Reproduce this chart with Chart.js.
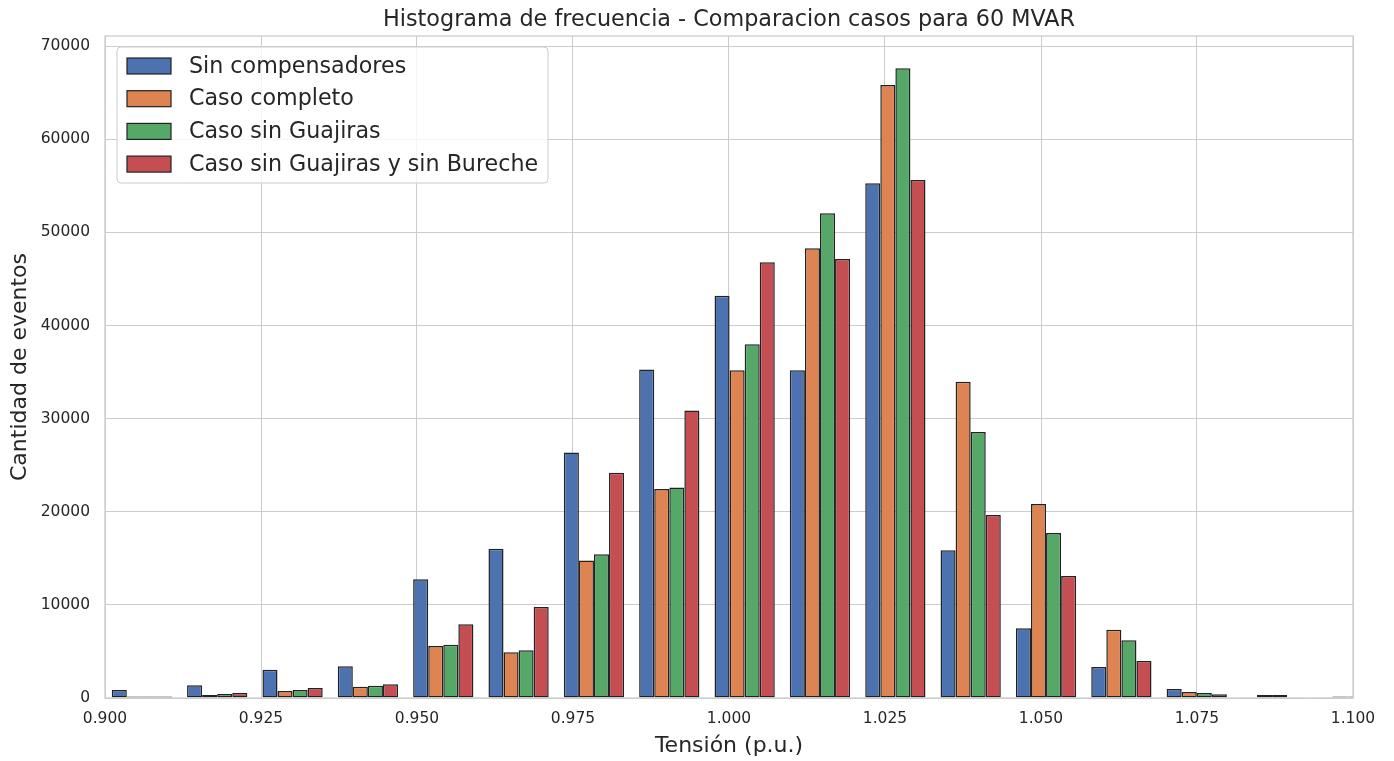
<!DOCTYPE html>
<html>
<head>
<meta charset="utf-8">
<script src="https://cdn.jsdelivr.net/npm/chart.js@4.4.1/dist/chart.umd.min.js"></script>
<style>
  html, body { margin: 0; padding: 0; background: #ffffff; }
  #c { display: block; }
</style>
</head>
<body>
<canvas id="c" width="1394" height="761"></canvas>
<script>
// Bin centres (Tensión p.u.)
const binCenters = [0.90591, 0.91798, 0.93006, 0.94213, 0.95421, 0.96628, 0.97836, 0.99043,
                    1.00251, 1.01458, 1.02666, 1.03873, 1.05081, 1.06288, 1.07496, 1.08703, 1.09911];

const seriesNames = ['Sin compensadores', 'Caso completo', 'Caso sin Guajiras', 'Caso sin Guajiras y sin Bureche'];

const sinCompensadores = [860, 1380, 3040, 3400, 12760, 16020, 26380, 35270, 43210, 35200, 55290, 15860, 7490, 3330, 970, 40, 20];
const casoCompleto     = [170, 320, 750, 1220, 5590, 4910, 14760, 22440, 35200, 48300, 65840, 33970, 20840, 7340, 640, 320, 170];
const casoSinGuajiras  = [170, 430, 860, 1320, 5730, 5125, 15450, 22620, 37990, 52060, 67640, 28570, 17720, 6200, 540, 320, 170];
const casoSinGuajBur   = [170, 540, 1075, 1470, 7920, 9780, 24190, 30890, 46800, 47150, 55640, 19660, 13100, 3970, 400, 40, 20];

const xTickValues = [0.900, 0.925, 0.950, 0.975, 1.000, 1.025, 1.050, 1.075, 1.100];
const yTickValues = [0, 10000, 20000, 30000, 40000, 50000, 60000, 70000];

const titleText = 'Histograma de frecuencia - Comparacion casos para 60 MVAR';

const colors = ['#4C72B0', '#DD8452', '#55A868', '#C44E52'];
const FONT = "'DejaVu Sans', 'Noto Sans', sans-serif";
const TXT = '#262626';

const allSeries = [sinCompensadores, casoCompleto, casoSinGuajiras, casoSinGuajBur];

const titlePlugin = {
  id: 'axTitle',
  afterDraw(chart) {
    const {ctx, chartArea: a} = chart;
    ctx.save();
    ctx.font = '22.3px ' + FONT;
    ctx.fillStyle = TXT;
    ctx.textAlign = 'center';
    ctx.textBaseline = 'middle';
    ctx.fillText(titleText, (a.left + a.right) / 2, 20);
    ctx.restore();
  }
};

const framePlugin = {
  id: 'frame',
  afterDatasetsDraw(chart) {
    const {ctx, chartArea: a} = chart;
    ctx.save();
    ctx.strokeStyle = '#cccccc';
    ctx.lineWidth = 1.3;
    ctx.strokeRect(a.left, a.top, a.right - a.left, a.bottom - a.top);
    ctx.restore();
  }
};

const legendPlugin = {
  id: 'mplLegend',
  afterDraw(chart) {
    const {ctx, chartArea: a} = chart;
    const fs = 22.2;
    const x0 = a.left + 12, y0 = a.top + 11;
    const w = 431, rowH = 32.7, h = 136;
    ctx.save();
    ctx.beginPath();
    const r = 4;
    ctx.moveTo(x0 + r, y0);
    ctx.lineTo(x0 + w - r, y0);
    ctx.quadraticCurveTo(x0 + w, y0, x0 + w, y0 + r);
    ctx.lineTo(x0 + w, y0 + h - r);
    ctx.quadraticCurveTo(x0 + w, y0 + h, x0 + w - r, y0 + h);
    ctx.lineTo(x0 + r, y0 + h);
    ctx.quadraticCurveTo(x0, y0 + h, x0, y0 + h - r);
    ctx.lineTo(x0, y0 + r);
    ctx.quadraticCurveTo(x0, y0, x0 + r, y0);
    ctx.closePath();
    ctx.fillStyle = 'rgba(255,255,255,0.8)';
    ctx.fill();
    ctx.strokeStyle = '#cccccc';
    ctx.lineWidth = 1;
    ctx.stroke();
    ctx.font = fs + 'px ' + FONT;
    ctx.textBaseline = 'middle';
    ctx.textAlign = 'left';
    chart.data.datasets.forEach((ds, i) => {
      const cy = y0 + 19 + i * rowH;
      ctx.fillStyle = ds.backgroundColor;
      ctx.fillRect(x0 + 10, cy - 8, 44, 16);
      ctx.strokeStyle = '#222222';
      ctx.lineWidth = 1.2;
      ctx.strokeRect(x0 + 10, cy - 8, 44, 16);
      ctx.fillStyle = TXT;
      ctx.fillText(ds.label, x0 + 72, cy + 1);
    });
    ctx.restore();
  }
};

new Chart(document.getElementById('c'), {
  type: 'bar',
  data: {
    labels: binCenters,
    datasets: seriesNames.map((name, i) => ({
      label: name,
      data: allSeries[i],
      backgroundColor: colors[i],
      borderColor: '#222222',
      borderWidth: 1.5,
      borderSkipped: false,
      categoryPercentage: 0.8,
      barPercentage: 1.0
    }))
  },
  options: {
    responsive: false,
    devicePixelRatio: 1,
    animation: false,
    layout: { padding: { left: 0, right: 41, top: 36, bottom: 0 } },
    plugins: {
      legend: { display: false },
      tooltip: { enabled: false },
      title: { display: false }
    },
    scales: {
      x: {
        type: 'linear',
        min: 0.9,
        max: 1.1,
        offset: false,
        afterFit(scale) { scale.height = 63; },
        afterBuildTicks(scale) { scale.ticks = xTickValues.map(v => ({ value: v })); },
        ticks: {
          color: TXT,
          font: { family: FONT, size: 15.5 },
          padding: 12,
          maxRotation: 0,
          autoSkip: false,
          callback: (v) => Number(v).toFixed(3)
        },
        grid: { color: '#cccccc', lineWidth: 1, drawTicks: false, offset: false },
        border: { display: false },
        title: {
          display: true,
          text: 'Tensión (p.u.)',
          color: TXT,
          font: { family: FONT, size: 22 },
          padding: { top: 0, bottom: 2 }
        }
      },
      y: {
        min: 0,
        max: 71100,
        afterFit(scale) { scale.width = 105; },
        afterBuildTicks(scale) { scale.ticks = yTickValues.map(v => ({ value: v })); },
        ticks: {
          color: TXT,
          font: { family: FONT, size: 15.5 },
          padding: 15,
          autoSkip: false,
          callback: (v) => String(Math.round(v))
        },
        grid: { color: '#cccccc', lineWidth: 1, drawTicks: false },
        border: { display: false },
        title: {
          display: true,
          text: 'Cantidad de eventos',
          color: TXT,
          font: { family: FONT, size: 22 },
          padding: { top: 7, bottom: 0 }
        }
      }
    }
  },
  plugins: [framePlugin, legendPlugin, titlePlugin]
});
</script>
</body>
</html>
